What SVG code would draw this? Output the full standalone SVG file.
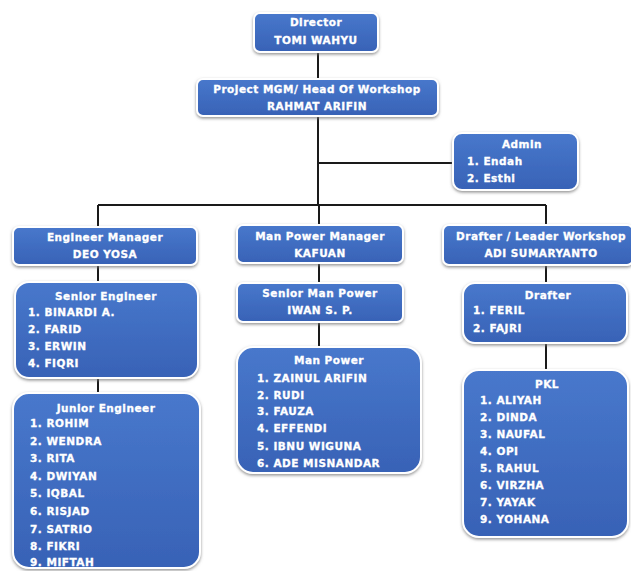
<svg xmlns="http://www.w3.org/2000/svg" width="631" height="571" viewBox="0 0 631 571">
<defs>
<linearGradient id="g" x1="0" y1="0" x2="0" y2="1">
<stop offset="0" stop-color="#4878cc"/>
<stop offset="1" stop-color="#3862b6"/>
</linearGradient>
<filter id="sh" x="-10%" y="-10%" width="120%" height="130%">
<feDropShadow dx="0" dy="1.5" stdDeviation="1.5" flood-color="#777" flood-opacity="0.8"/>
</filter>
</defs>
<style>
.box{fill:url(#g);stroke:#ffffff;stroke-width:2;filter:url(#sh)}
text{font-family:"DejaVu Sans","Liberation Sans",sans-serif;font-weight:bold;font-size:10.5px;fill:#ffffff;stroke:#ffffff;stroke-width:0.3;letter-spacing:0.5px}
.c{text-anchor:middle}
.ln{stroke:#1a1a1a;stroke-width:2;fill:none}
</style>
<rect width="631" height="571" fill="#ffffff"/>
<g id="connectors">
<path class="ln" d="M318 52V79M318 116V205M318 163H453M98 205H546M98 205V227M319 205V225M546 205V225M98 265V282M98 378V393M319 263V283M319 322V347M546 265V283M546 343V370"/>
</g>
<g id="director">
<rect class="box" x="254" y="13" width="124" height="39" rx="6"/>
<text class="c" x="316" y="26">Director</text>
<text class="c" x="316" y="44">TOMI WAHYU</text>
</g>
<g id="project">
<rect class="box" x="197" y="79" width="241" height="37" rx="6"/>
<text class="c" x="317" y="93">Project MGM/ Head Of Workshop</text>
<text class="c" x="317" y="110">RAHMAT ARIFIN</text>
</g>
<g id="admin">
<rect class="box" x="453" y="133" width="125" height="57" rx="9"/>
<text class="c" x="522" y="148">Admin</text>
<text x="467" y="165">1. Endah</text>
<text x="467" y="182">2. Esthi</text>
</g>
<g id="engmgr">
<rect class="box" x="13" y="227" width="184" height="38" rx="6"/>
<text class="c" x="105" y="241">Engineer Manager</text>
<text class="c" x="105" y="258">DEO YOSA</text>
</g>
<g id="senioreng">
<rect class="box" x="15" y="282" width="183" height="96" rx="14"/>
<text class="c" x="106" y="300">Senior Engineer</text>
<text x="28" y="316">1. BINARDI A.</text>
<text x="28" y="333">2. FARID</text>
<text x="28" y="350">3. ERWIN</text>
<text x="28" y="367">4. FIQRI</text>
</g>
<g id="junioreng">
<rect class="box" x="13" y="393" width="187" height="175" rx="16"/>
<text class="c" x="106" y="412">Junior Engineer</text>
<text x="30" y="427">1. ROHIM</text>
<text x="30" y="445">2. WENDRA</text>
<text x="30" y="462">3. RITA</text>
<text x="30" y="480">4. DWIYAN</text>
<text x="30" y="497">5. IQBAL</text>
<text x="30" y="515">6. RISJAD</text>
<text x="30" y="533">7. SATRIO</text>
<text x="30" y="550">8. FIKRI</text>
<text x="30" y="566">9. MIFTAH</text>
</g>
<g id="mpmgr">
<rect class="box" x="237" y="225" width="166" height="38" rx="6"/>
<text class="c" x="320" y="240">Man Power Manager</text>
<text class="c" x="320" y="257">KAFUAN</text>
</g>
<g id="seniormp">
<rect class="box" x="237" y="283" width="166" height="39" rx="6"/>
<text class="c" x="320" y="297">Senior Man Power</text>
<text class="c" x="320" y="314">IWAN S. P.</text>
</g>
<g id="manpower">
<rect class="box" x="237" y="347" width="184" height="126" rx="16"/>
<text class="c" x="329" y="364">Man Power</text>
<text x="257" y="382">1. ZAINUL ARIFIN</text>
<text x="257" y="399">2. RUDI</text>
<text x="257" y="415">3. FAUZA</text>
<text x="257" y="432">4. EFFENDI</text>
<text x="257" y="450">5. IBNU WIGUNA</text>
<text x="257" y="467">6. ADE MISNANDAR</text>
</g>
<g id="drafterleader">
<rect class="box" x="443" y="225" width="190" height="40" rx="6"/>
<text class="c" x="541" y="240">Drafter / Leader Workshop</text>
<text class="c" x="541" y="257">ADI SUMARYANTO</text>
</g>
<g id="drafter">
<rect class="box" x="463" y="283" width="164" height="60" rx="12"/>
<text class="c" x="548" y="299">Drafter</text>
<text x="473" y="314">1. FERIL</text>
<text x="473" y="332">2. FAJRI</text>
</g>
<g id="pkl">
<rect class="box" x="463" y="370" width="165" height="167" rx="16"/>
<text class="c" x="547" y="388">PKL</text>
<text x="480" y="404">1. ALIYAH</text>
<text x="480" y="421">2. DINDA</text>
<text x="480" y="438">3. NAUFAL</text>
<text x="480" y="455">4. OPI</text>
<text x="480" y="472">5. RAHUL</text>
<text x="480" y="489">6. VIRZHA</text>
<text x="480" y="506">7. YAYAK</text>
<text x="480" y="523">9. YOHANA</text>
</g>
</svg>
